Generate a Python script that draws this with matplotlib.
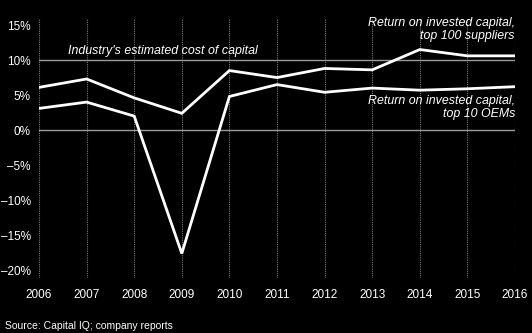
import matplotlib
matplotlib.use("Agg")
import matplotlib.pyplot as plt

years = [2006, 2007, 2008, 2009, 2010, 2011, 2012, 2013, 2014, 2015, 2016]
suppliers_roic = [6.1, 7.3, 4.6, 2.4, 8.5, 7.5, 8.8, 8.6, 11.5, 10.6, 10.6]
oems_roic = [3.1, 4.0, 2.0, -17.6, 4.8, 6.5, 5.4, 6.0, 5.7, 5.9, 6.2]
cost_of_capital = 10
y_ticks = [15, 10, 5, 0, -5, -10, -15, -20]

plt.rcParams['font.family'] = ['Liberation Sans', 'DejaVu Sans']

W, H = 532, 333
fig = plt.figure(figsize=(W / 100, H / 100), dpi=100, facecolor='black')
ax = fig.add_axes([39 / W, 1 - 278 / H, (515 - 39) / W, (278 - 18) / H])
ax.set_facecolor('black')

ax.set_xlim(2006, 2016)
ax.set_ylim(-21.1, 16.0)

for yr in years:
    ax.axvline(yr, color='#7a7a7a', lw=0.8, ls=(0, (1, 1)), zorder=1)
ax.axhline(0, color='#9a9a9a', lw=1.0, zorder=2)
ax.axhline(cost_of_capital, color='#9a9a9a', lw=1.0, zorder=2)

ax.plot(years, suppliers_roic, color='white', lw=2, zorder=3, solid_joinstyle='miter')
ax.plot(years, oems_roic, color='white', lw=2, zorder=3, solid_joinstyle='miter')

for s in ax.spines.values():
    s.set_visible(False)
ax.set_xticks(years)
ax.set_xticklabels([str(y) for y in years])
ax.set_yticks(y_ticks)
ax.set_yticklabels(['\u2013' + f'{-v}%' if v < 0 else f'{v}%' for v in y_ticks])
ax.tick_params(colors='white', labelsize=8.5, length=0)
ax.tick_params(axis='x', pad=8)
ax.tick_params(axis='y', pad=6)

ax.text(2006.6, cost_of_capital + 1.3, "Industry's estimated cost of capital",
        color='white', fontsize=8.9, style='italic', ha='left', va='center')
ax.text(2016, 14.4, 'Return on invested capital,\ntop 100 suppliers',
        color='white', fontsize=8.9, style='italic', ha='right', va='center',
        linespacing=1.15)
ax.text(2016, 3.2, 'Return on invested capital,\ntop 10 OEMs',
        color='white', fontsize=8.9, style='italic', ha='right', va='center',
        linespacing=1.15)

fig.text(5 / W, 1 - 326 / H, 'Source: Capital IQ; company reports',
         color='white', fontsize=7.5, ha='left', va='center')

fig.savefig('out.png', dpi=100, facecolor='black')
